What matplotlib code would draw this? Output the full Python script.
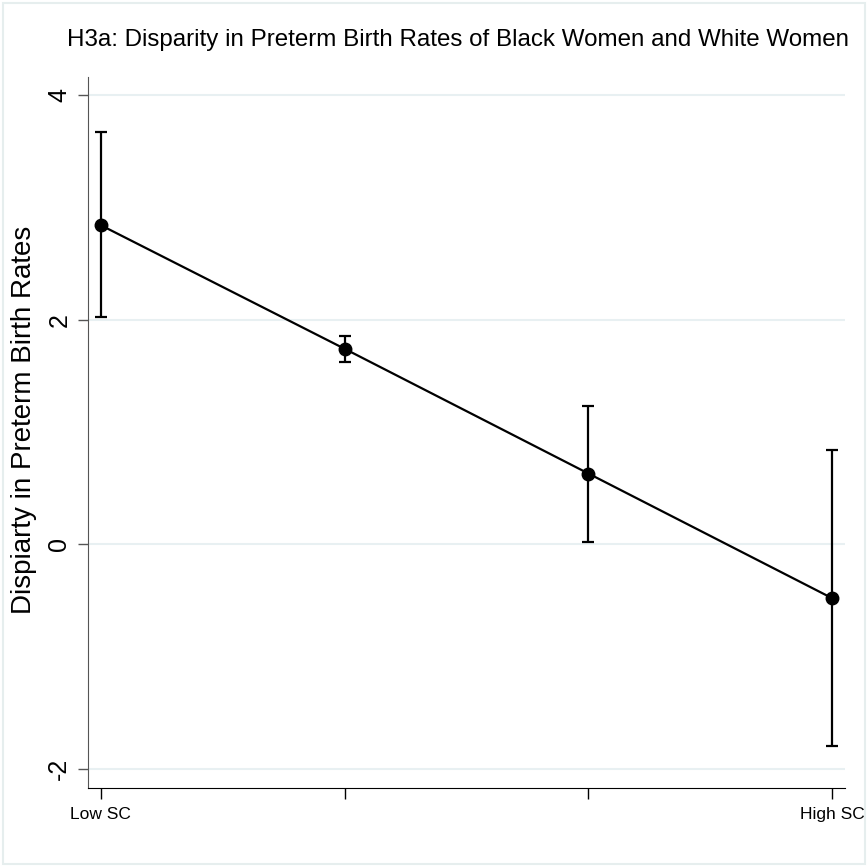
import matplotlib
matplotlib.use('Agg')
import matplotlib.pyplot as plt
from matplotlib.patches import Rectangle

# disparity estimates with 95% CIs by social capital level
categories = ['Low SC', '', '', 'High SC']
xpos = [1, 2, 3, 4]
disparity = [2.84, 1.74, 0.63, -0.48]
ci_low = [2.02, 1.62, 0.02, -1.80]
ci_high = [3.67, 1.85, 1.23, 0.84]
yticks = [-2, 0, 2, 4]

plt.rcParams['font.family'] = ['Liberation Sans Narrow', 'Liberation Sans', 'DejaVu Sans']

fig = plt.figure(figsize=(8.68, 8.67), dpi=100)
ax = fig.add_axes([0.1014, 0.0911, 0.8721, 0.8201])

yerr = [[d - lo for d, lo in zip(disparity, ci_low)],
        [hi - d for d, hi in zip(disparity, ci_high)]]
ax.errorbar(xpos, disparity, yerr=yerr, fmt='none', ecolor='black',
            elinewidth=1.6, capsize=4, capthick=1.6, zorder=3)
ax.plot(xpos, disparity, color='black', lw=1.6, marker='o', ms=9, zorder=4)

ax.set_xlim(0.947, 4.053)
ax.set_ylim(-2.17, 4.16)
ax.set_yticks(yticks)
ax.set_yticklabels([str(t) for t in yticks], rotation=90, va='center', fontsize=18)
ax.set_xticks(xpos)
ax.set_xticklabels(categories, fontsize=12.5)
ax.grid(axis='y', color='#e8f0f2', lw=1.5)
ax.set_axisbelow(True)
for s in ['top', 'right']:
    ax.spines[s].set_visible(False)
ax.spines['left'].set_color('#555555')
ax.spines['bottom'].set_color('black')
ax.tick_params(axis='y', length=7, width=1, pad=5, colors='black')
ax.tick_params(axis='x', length=8, width=1, pad=6)
ax.tick_params(axis='y', color='#555555')

ax.set_ylabel('Dispiarty in Preterm Birth Rates', fontsize=20)
ax.yaxis.set_label_coords(-0.067, 0.518)
fig.text(0.528, 0.954, 'H3a: Disparity in Preterm Birth Rates of Black Women and White Women',
         ha='center', va='center', fontsize=17.4)

# light frame around the graph region
fig.patches.append(Rectangle((0.004, 0.004), 0.992, 0.992, transform=fig.transFigure,
                             fill=False, edgecolor='#e6eeee', lw=1.5))

fig.savefig('out.png', dpi=100)
